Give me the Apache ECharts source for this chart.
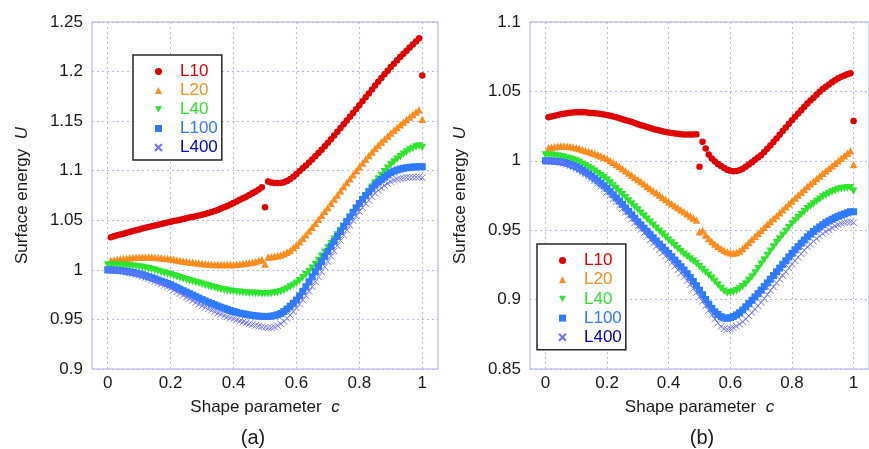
<!DOCTYPE html>
<html>
<head>
<meta charset="utf-8">
<script src="https://cdn.jsdelivr.net/npm/echarts@6/dist/echarts.min.js"></script>
<style>
  html, body { margin: 0; padding: 0; background: #ffffff; }
  #chart { width: 869px; height: 449px; }
</style>
</head>
<body>
<div id="chart"></div>
<script>
// Shape parameter c, sampled every 0.01
const shapeParam = [
  0.00, 0.01, 0.02, 0.03, 0.04, 0.05, 0.06, 0.07, 0.08, 0.09,
  0.10, 0.11, 0.12, 0.13, 0.14, 0.15, 0.16, 0.17, 0.18, 0.19,
  0.20, 0.21, 0.22, 0.23, 0.24, 0.25, 0.26, 0.27, 0.28, 0.29,
  0.30, 0.31, 0.32, 0.33, 0.34, 0.35, 0.36, 0.37, 0.38, 0.39,
  0.40, 0.41, 0.42, 0.43, 0.44, 0.45, 0.46, 0.47, 0.48, 0.49,
  0.50, 0.51, 0.52, 0.53, 0.54, 0.55, 0.56, 0.57, 0.58, 0.59,
  0.60, 0.61, 0.62, 0.63, 0.64, 0.65, 0.66, 0.67, 0.68, 0.69,
  0.70, 0.71, 0.72, 0.73, 0.74, 0.75, 0.76, 0.77, 0.78, 0.79,
  0.80, 0.81, 0.82, 0.83, 0.84, 0.85, 0.86, 0.87, 0.88, 0.89,
  0.90, 0.91, 0.92, 0.93, 0.94, 0.95, 0.96, 0.97, 0.98, 0.99,
  1.00
];

const xTickValues = [0, 0.2, 0.4, 0.6, 0.8, 1];
const seriesNames = ['L10', 'L20', 'L40', 'L100', 'L400'];
const panelLabels = ['(a)', '(b)'];

// ---- Panel (a): surface energy U ----
const a_L10 = [
  null,
  1.0330, 1.0340, 1.0349, 1.0357, 1.0365, 1.0374, 1.0383, 1.0391, 1.0400, 1.0408,
  1.0416, 1.0424, 1.0432, 1.0440, 1.0448, 1.0456, 1.0463, 1.0470, 1.0478, 1.0485,
  1.0492, 1.0499, 1.0506, 1.0513, 1.0520, 1.0527, 1.0534, 1.0541, 1.0548, 1.0555,
  1.0564, 1.0573, 1.0583, 1.0594, 1.0605, 1.0618, 1.0631, 1.0645, 1.0660, 1.0675,
  1.0690, 1.0706, 1.0722, 1.0738, 1.0755, 1.0772, 1.0790, 1.0810, 1.0832, 1.0632,
  1.0890, 1.0882, 1.0877, 1.0875, 1.0877, 1.0884, 1.0897, 1.0916, 1.0940, 1.0968,
  1.0996, 1.1024, 1.1053, 1.1083, 1.1114, 1.1146, 1.1178, 1.1212, 1.1246, 1.1281,
  1.1318, 1.1355, 1.1393, 1.1431, 1.1469, 1.1507, 1.1545, 1.1583, 1.1621, 1.1660,
  1.1700, 1.1740, 1.1780, 1.1820, 1.1860, 1.1898, 1.1936, 1.1973, 1.2009, 1.2045,
  1.2080, 1.2114, 1.2147, 1.2179, 1.2210, 1.2242, 1.2273, 1.2304, 1.2335, 1.1960
];
const a_L20 = [
  null,
  1.0095, 1.0100, 1.0105, 1.0110, 1.0115, 1.0118, 1.0121, 1.0124, 1.0126, 1.0128,
  1.0129, 1.0130, 1.0130, 1.0129, 1.0128, 1.0125, 1.0122, 1.0118, 1.0115, 1.0112,
  1.0106, 1.0100, 1.0095, 1.0090, 1.0085, 1.0080, 1.0076, 1.0072, 1.0068, 1.0065,
  1.0062, 1.0059, 1.0057, 1.0055, 1.0054, 1.0053, 1.0053, 1.0053, 1.0054, 1.0055,
  1.0057, 1.0060, 1.0063, 1.0067, 1.0072, 1.0078, 1.0085, 1.0094, 1.0105, 1.0060,
  1.0130, 1.0133, 1.0137, 1.0142, 1.0150, 1.0162, 1.0177, 1.0196, 1.0222, 1.0250,
  1.0284, 1.0319, 1.0355, 1.0392, 1.0430, 1.0470, 1.0510, 1.0550, 1.0590, 1.0630,
  1.0672, 1.0714, 1.0756, 1.0798, 1.0840, 1.0880, 1.0920, 1.0960, 1.1000, 1.1040,
  1.1078, 1.1116, 1.1153, 1.1189, 1.1225, 1.1258, 1.1290, 1.1321, 1.1351, 1.1380,
  1.1409, 1.1437, 1.1464, 1.1491, 1.1516, 1.1541, 1.1567, 1.1592, 1.1615, 1.1520
];
const a_L40 = [
  1.0050,
  1.0050, 1.0049, 1.0048, 1.0047, 1.0045, 1.0043, 1.0040, 1.0037, 1.0034, 1.0030,
  1.0024, 1.0017, 1.0010, 1.0003, 0.9995, 0.9986, 0.9977, 0.9968, 0.9959, 0.9950,
  0.9940, 0.9930, 0.9920, 0.9910, 0.9900, 0.9891, 0.9882, 0.9873, 0.9864, 0.9855,
  0.9846, 0.9837, 0.9828, 0.9819, 0.9810, 0.9803, 0.9797, 0.9791, 0.9785, 0.9780,
  0.9776, 0.9773, 0.9770, 0.9767, 0.9765, 0.9763, 0.9762, 0.9761, 0.9760, 0.9758,
  0.9760, 0.9762, 0.9766, 0.9772, 0.9780, 0.9792, 0.9808, 0.9827, 0.9845, 0.9865,
  0.9891, 0.9920, 0.9950, 0.9982, 1.0015, 1.0055, 1.0095, 1.0136, 1.0178, 1.0220,
  1.0264, 1.0308, 1.0352, 1.0396, 1.0440, 1.0484, 1.0528, 1.0572, 1.0616, 1.0660,
  1.0703, 1.0746, 1.0789, 1.0832, 1.0875, 1.0914, 1.0952, 1.0990, 1.1025, 1.1060,
  1.1089, 1.1116, 1.1142, 1.1166, 1.1190, 1.1208, 1.1224, 1.1238, 1.1250, 1.1235
];
const a_L100 = [
  1.0000,
  1.0000, 0.9998, 0.9996, 0.9993, 0.9990, 0.9985, 0.9980, 0.9974, 0.9967, 0.9960,
  0.9951, 0.9941, 0.9931, 0.9921, 0.9910, 0.9898, 0.9886, 0.9874, 0.9862, 0.9850,
  0.9835, 0.9820, 0.9805, 0.9790, 0.9775, 0.9760, 0.9745, 0.9730, 0.9715, 0.9700,
  0.9686, 0.9673, 0.9660, 0.9647, 0.9635, 0.9623, 0.9612, 0.9601, 0.9590, 0.9580,
  0.9572, 0.9564, 0.9557, 0.9551, 0.9545, 0.9540, 0.9536, 0.9533, 0.9531, 0.9530,
  0.9530, 0.9533, 0.9538, 0.9547, 0.9560, 0.9580, 0.9605, 0.9633, 0.9663, 0.9695,
  0.9738, 0.9783, 0.9830, 0.9880, 0.9930, 0.9981, 1.0032, 1.0083, 1.0134, 1.0185,
  1.0236, 1.0287, 1.0337, 1.0387, 1.0437, 1.0485, 1.0533, 1.0580, 1.0625, 1.0670,
  1.0710, 1.0749, 1.0786, 1.0822, 1.0857, 1.0885, 1.0911, 1.0935, 1.0958, 1.0980,
  1.0995, 1.1007, 1.1017, 1.1024, 1.1030, 1.1034, 1.1037, 1.1039, 1.1040, 1.1040
];
const a_L400 = [
  1.0000,
  0.9999, 0.9997, 0.9994, 0.9990, 0.9985, 0.9978, 0.9971, 0.9963, 0.9954, 0.9945,
  0.9934, 0.9922, 0.9910, 0.9898, 0.9885, 0.9871, 0.9857, 0.9843, 0.9829, 0.9815,
  0.9797, 0.9779, 0.9761, 0.9743, 0.9725, 0.9707, 0.9689, 0.9672, 0.9654, 0.9637,
  0.9622, 0.9607, 0.9593, 0.9579, 0.9565, 0.9551, 0.9538, 0.9526, 0.9516, 0.9506,
  0.9495, 0.9484, 0.9474, 0.9464, 0.9455, 0.9447, 0.9439, 0.9432, 0.9426, 0.9420,
  0.9416, 0.9417, 0.9424, 0.9437, 0.9455, 0.9480, 0.9510, 0.9543, 0.9578, 0.9614,
  0.9655, 0.9697, 0.9740, 0.9785, 0.9830, 0.9880, 0.9930, 0.9981, 1.0032, 1.0084,
  1.0137, 1.0190, 1.0243, 1.0297, 1.0350, 1.0400, 1.0449, 1.0496, 1.0543, 1.0588,
  1.0628, 1.0666, 1.0702, 1.0738, 1.0773, 1.0801, 1.0827, 1.0851, 1.0871, 1.0890,
  1.0903, 1.0913, 1.0921, 1.0926, 1.0930, 1.0932, 1.0934, 1.0935, 1.0935, 1.0930
];

// ---- Panel (b): surface energy U ----
const b_L10 = [
  null,
  1.0313, 1.0319, 1.0325, 1.0330, 1.0335, 1.0339, 1.0343, 1.0346, 1.0348, 1.0349,
  1.0350, 1.0350, 1.0349, 1.0347, 1.0345, 1.0343, 1.0340, 1.0337, 1.0334, 1.0330,
  1.0325, 1.0319, 1.0313, 1.0307, 1.0300, 1.0293, 1.0286, 1.0279, 1.0272, 1.0264,
  1.0257, 1.0250, 1.0243, 1.0236, 1.0230, 1.0224, 1.0218, 1.0213, 1.0208, 1.0204,
  1.0200, 1.0197, 1.0194, 1.0192, 1.0190, 1.0189, 1.0189, 1.0190, 1.0192, 0.9957,
  1.0137, 1.0089, 1.0046, 1.0017, 0.9995, 0.9977, 0.9962, 0.9948, 0.9936, 0.9928,
  0.9925, 0.9926, 0.9932, 0.9942, 0.9957, 0.9973, 0.9990, 1.0008, 1.0024, 1.0040,
  1.0063, 1.0087, 1.0111, 1.0136, 1.0160, 1.0187, 1.0214, 1.0240, 1.0267, 1.0293,
  1.0317, 1.0341, 1.0365, 1.0389, 1.0413, 1.0434, 1.0455, 1.0476, 1.0497, 1.0517,
  1.0534, 1.0550, 1.0566, 1.0580, 1.0594, 1.0605, 1.0615, 1.0623, 1.0630, 1.0286
];
const b_L20 = [
  null,
  1.0094, 1.0098, 1.0102, 1.0104, 1.0106, 1.0106, 1.0105, 1.0103, 1.0099, 1.0094,
  1.0088, 1.0082, 1.0075, 1.0068, 1.0060, 1.0052, 1.0043, 1.0035, 1.0026, 1.0017,
  1.0003, 0.9989, 0.9974, 0.9960, 0.9945, 0.9929, 0.9913, 0.9898, 0.9882, 0.9866,
  0.9850, 0.9834, 0.9817, 0.9801, 0.9785, 0.9769, 0.9753, 0.9737, 0.9721, 0.9705,
  0.9690, 0.9676, 0.9661, 0.9647, 0.9633, 0.9618, 0.9603, 0.9588, 0.9573, 0.9489,
  0.9500, 0.9465, 0.9440, 0.9418, 0.9400, 0.9384, 0.9369, 0.9355, 0.9345, 0.9338,
  0.9336, 0.9340, 0.9350, 0.9368, 0.9390, 0.9412, 0.9434, 0.9456, 0.9478, 0.9500,
  0.9521, 0.9542, 0.9563, 0.9584, 0.9605, 0.9626, 0.9647, 0.9669, 0.9690, 0.9711,
  0.9732, 0.9753, 0.9774, 0.9795, 0.9815, 0.9834, 0.9853, 0.9872, 0.9891, 0.9910,
  0.9929, 0.9947, 0.9965, 0.9983, 1.0000, 1.0018, 1.0036, 1.0054, 1.0072, 0.9974
];
const b_L40 = [
  1.0041,
  1.0041, 1.0040, 1.0038, 1.0034, 1.0030, 1.0025, 1.0019, 1.0013, 1.0006, 0.9998,
  0.9987, 0.9976, 0.9964, 0.9952, 0.9940, 0.9925, 0.9909, 0.9893, 0.9877, 0.9861,
  0.9840, 0.9819, 0.9798, 0.9777, 0.9755, 0.9733, 0.9711, 0.9689, 0.9667, 0.9645,
  0.9623, 0.9601, 0.9579, 0.9557, 0.9535, 0.9514, 0.9492, 0.9471, 0.9449, 0.9428,
  0.9408, 0.9388, 0.9367, 0.9347, 0.9327, 0.9310, 0.9293, 0.9276, 0.9260, 0.9236,
  0.9215, 0.9195, 0.9175, 0.9153, 0.9130, 0.9105, 0.9080, 0.9060, 0.9048, 0.9050,
  0.9054, 0.9063, 0.9076, 0.9093, 0.9113, 0.9137, 0.9163, 0.9191, 0.9222, 0.9254,
  0.9286, 0.9317, 0.9348, 0.9379, 0.9410, 0.9437, 0.9464, 0.9491, 0.9518, 0.9545,
  0.9567, 0.9589, 0.9611, 0.9633, 0.9655, 0.9672, 0.9689, 0.9706, 0.9723, 0.9740,
  0.9752, 0.9764, 0.9775, 0.9785, 0.9793, 0.9798, 0.9802, 0.9804, 0.9805, 0.9780
];
const b_L100 = [
  1.0000,
  1.0000, 0.9999, 0.9997, 0.9995, 0.9993, 0.9988, 0.9982, 0.9975, 0.9966, 0.9957,
  0.9945, 0.9932, 0.9919, 0.9905, 0.9890, 0.9873, 0.9856, 0.9838, 0.9820, 0.9801,
  0.9778, 0.9755, 0.9732, 0.9709, 0.9685, 0.9660, 0.9636, 0.9611, 0.9586, 0.9561,
  0.9538, 0.9515, 0.9492, 0.9468, 0.9445, 0.9423, 0.9400, 0.9378, 0.9355, 0.9333,
  0.9309, 0.9285, 0.9261, 0.9237, 0.9213, 0.9187, 0.9160, 0.9131, 0.9100, 0.9068,
  0.9035, 0.9001, 0.8967, 0.8937, 0.8912, 0.8893, 0.8877, 0.8868, 0.8865, 0.8870,
  0.8878, 0.8890, 0.8905, 0.8925, 0.8948, 0.8971, 0.8995, 0.9019, 0.9043, 0.9068,
  0.9094, 0.9120, 0.9147, 0.9173, 0.9200, 0.9227, 0.9254, 0.9280, 0.9307, 0.9333,
  0.9358, 0.9382, 0.9406, 0.9429, 0.9452, 0.9472, 0.9491, 0.9508, 0.9524, 0.9540,
  0.9554, 0.9567, 0.9579, 0.9590, 0.9600, 0.9609, 0.9617, 0.9625, 0.9633, 0.9633
];
const b_L400 = [
  1.0000,
  0.9999, 0.9998, 0.9996, 0.9993, 0.9990, 0.9983, 0.9975, 0.9966, 0.9956, 0.9945,
  0.9932, 0.9918, 0.9904, 0.9890, 0.9875, 0.9856, 0.9837, 0.9817, 0.9796, 0.9775,
  0.9751, 0.9727, 0.9703, 0.9679, 0.9655, 0.9630, 0.9605, 0.9580, 0.9555, 0.9530,
  0.9505, 0.9480, 0.9455, 0.9430, 0.9405, 0.9382, 0.9359, 0.9336, 0.9313, 0.9290,
  0.9265, 0.9240, 0.9215, 0.9190, 0.9165, 0.9137, 0.9109, 0.9080, 0.9050, 0.9020,
  0.8988, 0.8955, 0.8922, 0.8890, 0.8860, 0.8832, 0.8806, 0.8790, 0.8786, 0.8790,
  0.8797, 0.8808, 0.8823, 0.8840, 0.8860, 0.8883, 0.8906, 0.8930, 0.8955, 0.8980,
  0.9008, 0.9036, 0.9064, 0.9092, 0.9120, 0.9147, 0.9174, 0.9201, 0.9228, 0.9255,
  0.9280, 0.9305, 0.9330, 0.9355, 0.9380, 0.9400, 0.9420, 0.9439, 0.9457, 0.9475,
  0.9490, 0.9504, 0.9517, 0.9529, 0.9540, 0.9548, 0.9554, 0.9558, 0.9560, 0.9555
];

const panelData = [
  [a_L10, a_L20, a_L40, a_L100, a_L400],
  [b_L10, b_L20, b_L40, b_L100, b_L400]
];

const FONT = '"Liberation Sans", Arial, Helvetica, sans-serif';
const TEXT = '#1a1a1a';
const FRAME = '#a9a9f2';
const GRIDLINE = '#b8b8f5';
const FS = 17;

// Marker look for each curve (L40 uses a downward-pointing triangle)
const markerStyle = {
  L10:  { symbol: 'circle',   size: 6.5, fill: '#e00000', label: '#e00000' },
  L20:  { symbol: 'triangle', size: 7.5, fill: '#ff8c1e', label: '#ff8c1e' },
  L40:  { symbol: 'path://M0,0L10,0L5,9Z', size: 7.5, fill: '#2de52d', label: '#2de52d' },
  L100: { symbol: 'rect',     size: 7,   fill: '#2f7bff', label: '#2f7bff' },
  L400: { symbol: 'path://M0,0L10,10M10,0L0,10', size: 6.5, fill: 'none', stroke: '#7272ff', label: '#0000cc' }
};

function toPairs(values) {
  const out = [];
  for (let i = 0; i < shapeParam.length; i++) {
    if (values[i] != null) out.push([shapeParam[i], values[i]]);
  }
  return out;
}

const series = [];
panelData.forEach((curves, p) => {
  curves.forEach((values, k) => {
    const name = seriesNames[k];
    const st = markerStyle[name];
    const itemStyle = st.stroke
      ? { color: st.stroke, borderColor: st.stroke, borderWidth: 1, opacity: 1 }
      : { color: st.fill, opacity: 1 };
    series.push({
      type: 'scatter',
      name: name,
      xAxisIndex: p,
      yAxisIndex: p,
      symbol: st.symbol,
      symbolSize: st.size,
      itemStyle: itemStyle,
      data: toPairs(values),
      silent: true,
      animation: false,
      z: 2 + k
    });
  });
});

const grids = [
  { left: 92, top: 22, width: 346, height: 347 },
  { left: 530, top: 22, width: 347, height: 347 }
];
grids.forEach(g => { g.show = true; g.borderColor = FRAME; g.borderWidth = 1; g.backgroundColor = 'transparent'; });

const yRanges = [
  { min: 0.9, max: 1.25 },
  { min: 0.85, max: 1.1 }
];

function xAxis(i) {
  return {
    type: 'value', gridIndex: i, min: -0.05, max: 1.05,
    name: 'Shape parameter  {i|c}', nameLocation: 'middle', nameGap: 30,
    nameTextStyle: { fontFamily: FONT, fontSize: FS, color: TEXT,
      rich: { i: { fontFamily: FONT, fontSize: FS, fontStyle: 'italic', color: TEXT } } },
    axisLine: { show: false },
    axisTick: { show: false, customValues: xTickValues },
    axisLabel: { customValues: xTickValues, fontFamily: FONT, fontSize: FS, color: TEXT, margin: 6,
      formatter: v => String(Math.round(v * 10) / 10) },
    splitLine: { show: true, lineStyle: { color: GRIDLINE, type: [2, 3], width: 1 } }
  };
}
function yAxis(i) {
  return {
    type: 'value', gridIndex: i, min: yRanges[i].min, max: yRanges[i].max, interval: 0.05,
    name: 'Surface energy  {i|U}', nameLocation: 'middle', nameGap: 61,
    nameTextStyle: { fontFamily: FONT, fontSize: FS, color: TEXT,
      rich: { i: { fontFamily: FONT, fontSize: FS, fontStyle: 'italic', color: TEXT } } },
    axisLine: { show: false },
    axisTick: { show: false },
    axisLabel: { fontFamily: FONT, fontSize: FS, color: TEXT, margin: 9,
      formatter: v => String(Math.round(v * 100) / 100) },
    splitLine: { show: true, lineStyle: { color: GRIDLINE, type: [2, 3], width: 1 } }
  };
}

// Boxed legend: small marker, then a coloured label set off to the right
function legend(left, top, gap) {
  return {
    orient: 'vertical', left: left, top: top,
    itemWidth: 7, itemHeight: 7, itemGap: gap,
    padding: [8, 4, 4, 21],
    backgroundColor: '#ffffff', borderColor: '#262626', borderWidth: 1.5,
    selectedMode: false,
    textStyle: { fontFamily: FONT, fontSize: FS, padding: [0, 0, 0, 13] },
    data: seriesNames.map(n => ({
      name: n,
      textStyle: { color: markerStyle[n].label, fontFamily: FONT, fontSize: FS, padding: [0, 0, 0, 13] }
    }))
  };
}

const chart = echarts.init(document.getElementById('chart'), null, { renderer: 'canvas' });
chart.setOption({
  backgroundColor: '#ffffff',
  animation: false,
  grid: grids,
  xAxis: [xAxis(0), xAxis(1)],
  yAxis: [yAxis(0), yAxis(1)],
  legend: [legend(133, 55, 2), legend(537, 244, 2.2)],
  graphic: [
    { type: 'text', x: 253, y: 438, style: { text: panelLabels[0], font: '20px ' + FONT, fill: TEXT, align: 'center', verticalAlign: 'middle' } },
    { type: 'text', x: 702, y: 438, style: { text: panelLabels[1], font: '20px ' + FONT, fill: TEXT, align: 'center', verticalAlign: 'middle' } }
  ],
  series: series
});
</script>
</body>
</html>
